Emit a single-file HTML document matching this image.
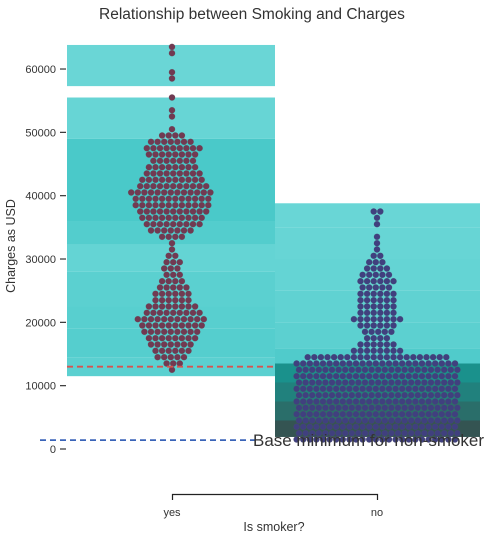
<!DOCTYPE html>
<html><head><meta charset="utf-8">
<style>
html,body{margin:0;padding:0;background:#fff;}
body{width:490px;height:538px;overflow:hidden;font-family:"Liberation Sans",sans-serif;}
svg text{font-family:"Liberation Sans",sans-serif;fill:#333;}
</style></head>
<body>
<svg id="chart" width="490" height="538" xmlns="http://www.w3.org/2000/svg">
  <text x="252" y="19" text-anchor="middle" font-size="15.5">Relationship between Smoking and Charges</text>
  <g id="bars"></g>
  <g id="dots"></g>
  <g id="yaxis"></g>
  <text transform="translate(15,246) rotate(-90)" text-anchor="middle" font-size="12.5">Charges as USD</text>
  <g>
    <path d="M172.5,500 V494.5 H377.5 V500" stroke="#222" stroke-width="1.2" fill="none"/>
    <text x="172" y="516" text-anchor="middle" font-size="11">yes</text>
    <text x="377" y="516" text-anchor="middle" font-size="11">no</text>
    <text x="274" y="531" text-anchor="middle" font-size="12.5">Is smoker?</text>
  </g>
  <g id="lines"></g>
</svg>
<script>
// ---- data ----
const categories = ["yes", "no"];
const yTicks = [0, 10000, 20000, 30000, 40000, 50000, 60000];
const yesBinEdges = [11500, 14500, 19000, 22500, 28000, 32300, 36000, 49000, 55500, 57300, 63800];
const yesBinCounts = [30, 40, 35, 30, 15, 45, 60, 8, 0, 4];
const noBinEdges = [1900, 4500, 7500, 10500, 13500, 15800, 20000, 25000, 30000, 35000, 38800];
const noBinCounts = [300, 220, 160, 110, 50, 28, 22, 15, 8, 5];
const yesSwarmStart = 12500;
const yesSwarmCounts = [1,3,5,6,7,8,9,10,11,9,8,6,6,5,4,3,3,3,2,1,1,4,7,9,10,11,12,12,13,11,10,9,8,7,8,9,7,4,1,0,1,1,0,1,0,0,1,1,0,0,1,1];
const noSwarmStart = 1500;
const noSwarmCounts = [25,25,25,25,25,25,25,25,25,25,25,25,25,22,8,6,4,5,6,8,6,6,6,6,5,6,5,4,3,2,1,1,1,0,1,1,2];
const smokerMin = 13000;
const nonSmokerMin = 1400;

// ---- scales ----
const NS = "http://www.w3.org/2000/svg";
function yScale(v){ return 449 - v * 0.006333; }
const catCenter = {yes:172, no:377};
const catLeft = {yes:67, no:275};
const catRight = {yes:275, no:480};
function shade(c){
  const stops = [[0,[108,215,215]],[60,[74,201,201]],[110,[26,145,140]],[220,[42,110,106]],[300,[52,84,82]]];
  for(let i=1;i<stops.length;i++){
    if(c<=stops[i][0]){
      const a=stops[i-1],b=stops[i],t=(c-a[0])/(b[0]-a[0]);
      const r=a[1].map((x,k)=>Math.round(x+(b[1][k]-x)*t));
      return `rgb(${r.join(',')})`;
    }
  }
  return 'rgb(52,84,82)';
}
function mk(tag, attrs, parent){
  const e=document.createElementNS(NS,tag);
  for(const k in attrs) e.setAttribute(k, attrs[k]);
  parent.appendChild(e); return e;
}

// ---- y axis ----
const yaxis=document.getElementById('yaxis');
yTicks.forEach(t=>{
  const y=yScale(t);
  const l=mk('line',{x1:60,x2:66,y1:y,y2:y,stroke:'#333','stroke-width':1.2},yaxis);
  
  
  const tx=mk('text',{x:56,y:y+4,'text-anchor':'end','font-size':11},yaxis);
  tx.textContent=String(t);
  
  
});

// ---- bars ----
const bars=document.getElementById('bars');
function drawBars(cat, edges, counts){
  for(let i=0;i<counts.length;i++){
    if(counts[i]<=0) continue;
    const y1=yScale(edges[i+1]), y0=yScale(edges[i]);
    const r=mk('rect',{x:catLeft[cat],y:y1,width:catRight[cat]-catLeft[cat],height:y0-y1,fill:shade(counts[i])},bars);
    
    
  }
}
drawBars('yes', yesBinEdges, yesBinCounts);
drawBars('no', noBinEdges, noBinCounts);

// ---- swarm (one row per 1000 USD) ----
const dots=document.getElementById('dots');
function drawSwarm(cat, start, counts, color, maxHalf){
  counts.forEach((m,i)=>{
    if(m<=0) return;
    const y = yScale(start + i*1000);
    let sp = 6.6;
    if((m-1)*sp/2 > maxHalf) sp = maxHalf*2/Math.max(1,m-1);
    const off = (m%2===0) ? 0 : ((i%2)?1.2:-1.2);
    for(let k=0;k<m;k++){
      const x = catCenter[cat] + (k-(m-1)/2)*sp + (m>1?off:0);
      const c=mk('circle',{cx:x.toFixed(1),cy:y.toFixed(1),r:3.1,fill:color,stroke:'rgba(90,90,90,0.35)','stroke-width':0.4},dots);
      
      
    }
  });
}
drawSwarm('yes', yesSwarmStart, yesSwarmCounts, '#713a52', 95);
drawSwarm('no', noSwarmStart, noSwarmCounts, '#40407f', 80);

// ---- reference lines ----
const lines=document.getElementById('lines');
const rl=mk('line',{x1:67,x2:275,y1:yScale(smokerMin),y2:yScale(smokerMin),stroke:'#d9534f','stroke-width':1.8,'stroke-dasharray':'6,4'},lines);


const bl=mk('line',{x1:40,x2:258,y1:yScale(nonSmokerMin),y2:yScale(nonSmokerMin),stroke:'#3a64b8','stroke-width':1.8,'stroke-dasharray':'6,4'},lines);


const bt=mk('text',{x:253,y:yScale(nonSmokerMin)+6,'font-size':17,textLength:231,lengthAdjust:'spacingAndGlyphs'},lines);
bt.textContent='Base minimum for non-smoker';


</script>
</body></html>
